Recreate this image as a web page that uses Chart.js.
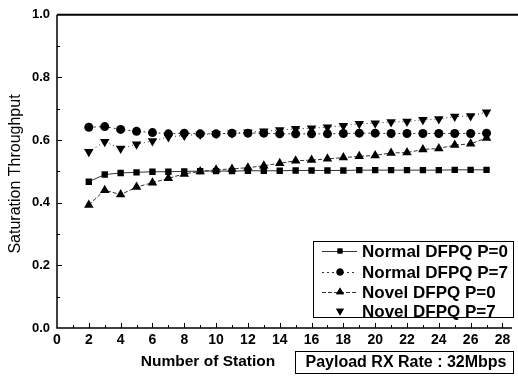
<!DOCTYPE html>
<html>
<head>
<meta charset="utf-8">
<script src="https://cdn.jsdelivr.net/npm/chart.js@4/dist/chart.umd.min.js"></script>
<style>
html,body{margin:0;padding:0;background:#fff;}
#c{display:block;}
</style>
</head>
<body>
<canvas id="c" width="518" height="376"></canvas>
<script>
// ---- data ----
const stations = [2,3,4,5,6,7,8,9,10,11,12,13,14,15,16,17,18,19,20,21,22,23,24,25,26,27];
const normalP0 = [0.467,0.490,0.495,0.497,0.499,0.499,0.500,0.501,0.501,0.501,0.502,0.502,0.502,0.503,0.503,0.503,0.503,0.504,0.504,0.504,0.504,0.504,0.504,0.505,0.505,0.505];
const normalP7 = [0.641,0.643,0.634,0.628,0.624,0.620,0.622,0.620,0.620,0.622,0.622,0.622,0.620,0.620,0.620,0.620,0.621,0.622,0.622,0.621,0.621,0.621,0.621,0.621,0.621,0.622];
const novelP0  = [0.393,0.440,0.426,0.450,0.464,0.478,0.492,0.500,0.505,0.508,0.512,0.518,0.526,0.534,0.536,0.540,0.544,0.548,0.551,0.559,0.560,0.570,0.573,0.584,0.588,0.607];
const novelP7  = [0.563,0.595,0.573,0.587,0.597,0.610,0.615,0.618,0.620,0.622,0.625,0.628,0.632,0.636,0.638,0.641,0.646,0.652,0.654,0.658,0.659,0.665,0.667,0.675,0.677,0.689];
const seriesNames = ["Normal DFPQ P=0","Normal DFPQ P=7","Novel DFPQ P=0","Novel DFPQ P=7"];
const xTicks = [0,2,4,6,8,10,12,14,16,18,20,22,24,26,28];
const yTicks = [0.0,0.2,0.4,0.6,0.8,1.0];
const xTitle = "Number of Station";
const yTitle = "Saturation Throughput";
const noteText = "Payload RX Rate : 32Mbps";

const FONT = "'Liberation Sans', Arial, sans-serif";
const toPts = arr => arr.map((v,i)=>({x:stations[i], y:v}));

const styles = [
  {pointStyle:'rect', radius:4.5, rotation:0, dash:[]},
  {pointStyle:'circle', radius:4.5, rotation:0, dash:[2,3]},
  {pointStyle:'triangle', radius:5.5, rotation:0, dash:[4,2]},
  {pointStyle:'triangle', radius:5.5, rotation:180, dash:[1,3]}
];
const values = [normalP0, normalP7, novelP0, novelP7];

const datasets = values.map((arr,i)=>({
  label: seriesNames[i],
  data: toPts(arr),
  borderColor: '#333',
  backgroundColor: '#000',
  borderWidth: 1,
  borderDash: styles[i].dash,
  pointStyle: styles[i].pointStyle,
  pointRadius: styles[i].radius,
  pointRotation: styles[i].rotation,
  pointBorderWidth: 0,
  pointBackgroundColor: '#000',
  pointBorderColor: '#000',
  tension: 0
}));

const decor = {
  id: 'decor',
  afterDraw(chart){
    const ctx = chart.ctx;
    const xs = chart.scales.x, ys = chart.scales.y;
    const a = chart.chartArea;
    ctx.save();
    ctx.strokeStyle = '#000';
    // axes
    ctx.lineWidth = 1.5;
    ctx.beginPath();
    ctx.moveTo(a.left, a.top); ctx.lineTo(a.left, a.bottom); ctx.lineTo(a.right, a.bottom);
    ctx.stroke();
    ctx.lineWidth = 2;
    ctx.beginPath();
    ctx.moveTo(a.left, a.top); ctx.lineTo(518, a.top);
    ctx.stroke();
    // ticks (inward)
    ctx.lineWidth = 1;
    ctx.beginPath();
    for (let v=1; v<=28; v++){
      const px = Math.round(xs.getPixelForValue(v))+0.5;
      const len = (v%2===0)?5:3;
      ctx.moveTo(px, a.bottom); ctx.lineTo(px, a.bottom-len);
    }
    for (let k=1; k<10; k++){
      const v = k/10;
      const py = Math.round(ys.getPixelForValue(v))+0.5;
      const len = (k%2===0)?5:3;
      ctx.moveTo(a.left, py); ctx.lineTo(a.left+len, py);
    }
    ctx.stroke();
    // axis titles
    ctx.fillStyle = '#000';
    ctx.textAlign = 'center'; ctx.textBaseline = 'middle';
    ctx.font = 'bold 15.5px ' + FONT;
    ctx.fillText(xTitle, 208, 362);
    ctx.save();
    ctx.translate(16, 174);
    ctx.rotate(-Math.PI/2);
    ctx.font = '16px ' + FONT;
    ctx.fillText(yTitle, 0, 0);
    ctx.restore();
    // note box
    ctx.lineWidth = 1;
    ctx.strokeRect(295.5, 351.5, 218, 22);
    ctx.font = 'bold 16px ' + FONT;
    ctx.fillText(noteText, 406, 363);
    // legend
    ctx.fillStyle = '#fff';
    ctx.fillRect(313, 241, 201, 77);
    ctx.strokeRect(313.5, 241.5, 200, 76);
    const rows = [251, 272, 292, 311];
    rows.forEach((ry, i)=>{
      if (i !== 3) {
        ctx.save();
        ctx.strokeStyle = '#333';
        ctx.lineWidth = 1;
        ctx.setLineDash(styles[i].dash);
        ctx.beginPath(); ctx.moveTo(322, ry+0.5); ctx.lineTo(357, ry+0.5); ctx.stroke();
        ctx.restore();
      }
      ctx.fillStyle = '#000';
      Chart.helpers.drawPoint(ctx, {pointStyle: styles[i].pointStyle, radius: styles[i].radius-1, rotation: styles[i].rotation, borderWidth: 0}, 340, ry);
      ctx.fill();
      ctx.fillStyle = '#000';
      ctx.textAlign = 'left';
      ctx.font = 'bold 17px ' + FONT;
      ctx.fillText(seriesNames[i], 362, ry+1);
    });
    ctx.restore();
  }
};

new Chart(document.getElementById('c'), {
  type: 'line',
  data: { datasets },
  options: {
    responsive: false,
    animation: false,
    devicePixelRatio: 1,
    layout: { padding: { top: 14, right: 6, left: 0, bottom: 0 } },
    plugins: { legend: { display: false }, tooltip: { enabled: false } },
    scales: {
      x: {
        type: 'linear', min: 0, max: 28.6,
        afterBuildTicks: s => { s.ticks = xTicks.map(v=>({value:v})); },
        afterFit: s => { s.height = 48; },
        grid: { display: false, drawTicks: false },
        border: { display: false },
        ticks: { padding: 4, color: '#000', font: { family: FONT, size: 14, weight: 'bold' }, maxRotation: 0, autoSkip: false }
      },
      y: {
        type: 'linear', min: 0, max: 1,
        afterBuildTicks: s => { s.ticks = yTicks.map(v=>({value:v})); },
        afterFit: s => { s.width = 57; },
        grid: { display: false, drawTicks: false },
        border: { display: false },
        ticks: { padding: 7, color: '#000', font: { family: FONT, size: 13, weight: 'bold' }, callback: v => Number(v).toFixed(1) }
      }
    }
  },
  plugins: [decor]
});
</script>
</body>
</html>
